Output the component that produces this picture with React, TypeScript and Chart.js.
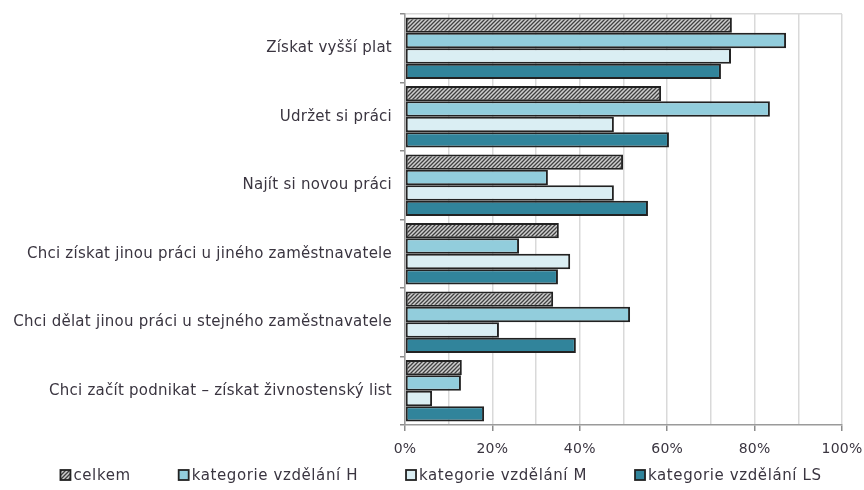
import React, { useEffect, useRef } from 'react';
import { Chart, registerables } from 'chart.js';

Chart.register(...registerables);

const categories = [
  'Získat vyšší plat',
  'Udržet si práci',
  'Najít si novou práci',
  'Chci získat jinou práci u jiného zaměstnavatele',
  'Chci dělat jinou práci u stejného zaměstnavatele',
  'Chci začít podnikat – získat živnostenský list',
];
const seriesNames = ['celkem', 'kategorie vzdělání H', 'kategorie vzdělání M', 'kategorie vzdělání LS'];
const celkem = [74.8, 58.6, 49.9, 35.2, 33.9, 13.0];
const katH = [87.2, 83.5, 32.7, 26.1, 51.5, 12.8];
const katM = [74.6, 47.8, 47.8, 37.8, 21.5, 6.2];
const katLS = [72.3, 60.4, 55.6, 35.0, 39.1, 18.1];
const xMin = 0;
const xMax = 100;
const xStep = 10;
const xLabelEvery = 20;

const FONT = "'DejaVu Sans', sans-serif";
const TEXT = '#3a3540';
const BORDER = '#222222';
const SPACING = '0.25px';

function makeHatch(): CanvasPattern | string {
  const c = document.createElement('canvas');
  c.width = 4;
  c.height = 4;
  const g = c.getContext('2d');
  if (!g) return '#999';
  g.fillStyle = '#cfcfcf';
  g.fillRect(0, 0, 4, 4);
  g.strokeStyle = '#404040';
  g.lineWidth = 1.3;
  g.beginPath();
  g.moveTo(-1, 5); g.lineTo(5, -1);
  g.moveTo(-1, 1); g.lineTo(1, -1);
  g.moveTo(3, 5); g.lineTo(5, 3);
  g.stroke();
  const p = g.createPattern(c, 'repeat');
  return p || '#999';
}

const spacingPlugin = {
  id: 'letterSpacing',
  beforeLayout(chart: any) {
    (chart.ctx as any).letterSpacing = SPACING;
  },
  beforeDraw(chart: any) {
    (chart.ctx as any).letterSpacing = SPACING;
  },
};

const legendPlugin = {
  id: 'customLegend',
  afterDraw(chart: any) {
    const ctx = chart.ctx as CanvasRenderingContext2D;
    const ds = chart.data.datasets;
    ctx.save();
    (ctx as any).letterSpacing = '0.6px';
    ctx.font = `15px ${FONT}`;
    const box = 10;
    const gapBoxText = 3;
    const gapItems = 48;
    const widths = ds.map((d: any) => box + gapBoxText + ctx.measureText(d.label).width);
    const total = widths.reduce((a: number, b: number) => a + b, 0) + gapItems * (ds.length - 1);
    let x = 441 - total / 2;
    const y = 475;
    ds.forEach((d: any, i: number) => {
      ctx.fillStyle = d.backgroundColor;
      ctx.fillRect(x, y - box / 2, box, box);
      ctx.strokeStyle = BORDER;
      ctx.lineWidth = 1.8;
      ctx.strokeRect(x, y - box / 2, box, box);
      ctx.fillStyle = TEXT;
      ctx.textBaseline = 'middle';
      ctx.textAlign = 'left';
      ctx.fillText(d.label, x + box + gapBoxText, y + 1);
      x += widths[i] + gapItems;
    });
    ctx.restore();
  },
};

export default function App() {
  const ref = useRef<HTMLCanvasElement>(null);
  useEffect(() => {
    if (!ref.current) return;
    const hatch = makeHatch();
    const colors = [hatch, '#92CDDC', '#DAEEF3', '#31849B'];
    const values = [celkem, katH, katM, katLS];
    const chart = new Chart(ref.current, {
      type: 'bar',
      data: {
        labels: categories,
        datasets: seriesNames.map((name, i) => ({
          label: name,
          data: values[i],
          backgroundColor: colors[i] as any,
          borderColor: BORDER,
          borderWidth: 2,
          borderSkipped: false,
          categoryPercentage: 0.9,
          barPercentage: 1.0,
        })),
      },
      options: {
        indexAxis: 'y',
        animation: false,
        responsive: true,
        maintainAspectRatio: false,
        layout: { padding: { top: 14, right: 22, left: 0, bottom: 0 } },
        plugins: {
          legend: { display: false },
          tooltip: { enabled: false },
        },
        scales: {
          x: {
            min: xMin,
            max: xMax,
            afterFit(scale: any) {
              scale.height = 65;
              scale.paddingRight = 0;
              scale.paddingLeft = 0;
            },
            ticks: {
              stepSize: xStep,
              autoSkip: false,
              maxRotation: 0,
              padding: 10,
              color: TEXT,
              font: { family: FONT, size: 14 },
              callback: (v: any) => (Number(v) % xLabelEvery === 0 ? `${v}%` : ''),
            },
            grid: {
              color: '#d9d9d9',
              lineWidth: 1.5,
              tickLength: 6,
              tickColor: (ctx: any) =>
                ctx.tick && ctx.tick.value % xLabelEvery === 0 ? '#8c8c8c' : 'rgba(0,0,0,0)',
            },
            border: { color: '#9a9a9a', width: 1.5 },
          },
          y: {
            afterFit(scale: any) {
              scale.width = 405;
              scale.paddingTop = 0;
              scale.paddingBottom = 0;
            },
            ticks: {
              padding: 8,
              color: TEXT,
              font: { family: FONT, size: 15 },
              autoSkip: false,
            },
            grid: {
              offset: true,
              lineWidth: 1.5,
              tickLength: 5,
              color: (ctx: any) => (ctx.index === 0 ? '#d9d9d9' : 'rgba(0,0,0,0)'),
              tickColor: '#8c8c8c',
            },
            border: { color: '#9a9a9a', width: 1.5 },
          },
        },
      },
      plugins: [spacingPlugin, legendPlugin],
    });
    return () => chart.destroy();
  }, []);
  return (
    <div style={{ position: 'fixed', left: 0, top: 0, width: 864, height: 490, background: '#fff' }}>
      <canvas ref={ref} />
    </div>
  );
}
